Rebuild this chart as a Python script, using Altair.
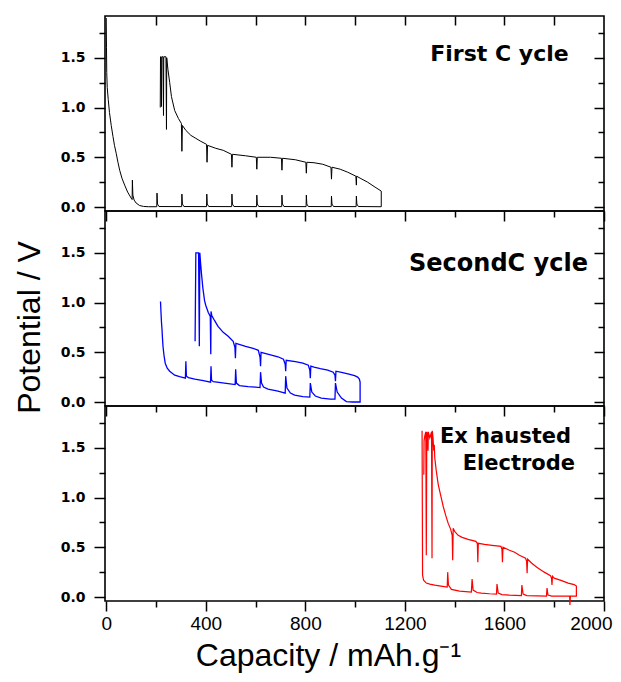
import altair as alt
import pandas as pd

# ---------------- data (capacity mAh/g, potential V) ----------------
first_discharge = [(0, 1.90), (1, 1.60), (2, 1.35), (4, 1.20), (8, 1.08), (13, 0.95), (20, 0.82),
                   (27, 0.71), (33, 0.62), (40, 0.54), (47, 0.45), (54, 0.37), (63, 0.29), (74, 0.22),
                   (86, 0.15), (100, 0.09), (104, 0.075), (105, 0.27), (107, 0.12), (112, 0.07),
                   (120, 0.04), (134, 0.015), (150, 0.006), (170, 0.003), (203, 0.003),
                   (204, 0.14), (206, 0.03), (212, 0.005), (303, 0.004), (304, 0.13), (306, 0.03),
                   (312, 0.005), (403, 0.004), (404, 0.13), (406, 0.03), (412, 0.005), (504, 0.004),
                   (505, 0.13), (507, 0.03), (513, 0.005), (604, 0.004), (605, 0.12), (607, 0.03),
                   (613, 0.005), (705, 0.004), (706, 0.12), (708, 0.03), (714, 0.005), (803, 0.004),
                   (804, 0.12), (806, 0.03), (812, 0.005), (904, 0.004), (905, 0.11), (907, 0.03),
                   (913, 0.005), (1004, 0.004), (1005, 0.11), (1007, 0.03), (1013, 0.005), (1105, 0.003)]
first_charge = [(1105, 0.16), (1080, 0.20), (1050, 0.25), (1020, 0.29), (1006, 0.31), (1005, 0.22),
                (1003, 0.31), (970, 0.35), (940, 0.38), (907, 0.40), (905, 0.28), (903, 0.40),
                (870, 0.43), (835, 0.445), (806, 0.45), (804, 0.34), (802, 0.45), (760, 0.475),
                (708, 0.49), (706, 0.37), (704, 0.49), (660, 0.50), (607, 0.50), (605, 0.38),
                (603, 0.50), (560, 0.515), (507, 0.53), (505, 0.40), (503, 0.53), (470, 0.57),
                (440, 0.59), (407, 0.62), (405, 0.45), (403, 0.63), (380, 0.66), (360, 0.69),
                (340, 0.72), (320, 0.77), (306, 0.82), (304, 0.56), (302, 0.84), (290, 0.89),
                (275, 0.97), (262, 1.11), (255, 1.25), (248, 1.38), (243, 1.50), (242, 0.78),
                (240, 1.51), (231, 1.51), (230, 0.92), (228, 1.51), (223, 1.51), (222, 1.01),
                (220, 1.51), (218, 1.51), (217, 1.00)]

second_discharge = [(218, 1.01), (220, 0.90), (222, 0.80), (224, 0.73), (226, 0.64), (228, 0.56),
                    (232, 0.47), (237, 0.39), (245, 0.34), (255, 0.31), (275, 0.27), (295, 0.255),
                    (318, 0.24), (320, 0.41), (322, 0.26), (330, 0.245), (356, 0.23), (390, 0.215),
                    (419, 0.20), (421, 0.36), (423, 0.22), (430, 0.205), (460, 0.195), (490, 0.185),
                    (518, 0.175), (520, 0.33), (523, 0.19), (535, 0.165), (570, 0.155), (600, 0.15),
                    (618, 0.145), (620, 0.30), (624, 0.19), (632, 0.15), (650, 0.13), (690, 0.11),
                    (719, 0.09), (721, 0.26), (726, 0.14), (740, 0.09), (757, 0.07), (790, 0.055),
                    (818, 0.05), (820, 0.19), (826, 0.10), (840, 0.06), (864, 0.04), (900, 0.03),
                    (919, 0.03), (921, 0.19), (928, 0.10), (945, 0.04), (965, 0.005), (990, 0.0),
                    (1020, 0.0)]
second_charge = [(1020, 0.20), (1017, 0.23), (1010, 0.25), (998, 0.265), (975, 0.28), (950, 0.295),
                 (923, 0.31), (921, 0.21), (919, 0.27), (912, 0.30), (890, 0.32), (860, 0.335),
                 (835, 0.35), (822, 0.36), (820, 0.24), (818, 0.32), (812, 0.37), (790, 0.39),
                 (760, 0.405), (723, 0.42), (721, 0.31), (719, 0.38), (712, 0.43), (690, 0.455),
                 (660, 0.475), (622, 0.50), (620, 0.36), (618, 0.45), (611, 0.52), (590, 0.54),
                 (560, 0.56), (521, 0.59), (519, 0.44), (517, 0.55), (510, 0.61), (490, 0.66),
                 (470, 0.70), (449, 0.76), (435, 0.82), (424, 0.87), (421, 0.91), (420, 0.48),
                 (418, 0.86), (410, 0.90), (400, 0.97), (395, 1.02), (388, 1.15), (383, 1.28),
                 (379, 1.40), (376, 1.50), (374, 0.56), (371, 1.50), (360, 1.50), (357, 0.61)]

third_discharge = [(1269, 1.67), (1271, 0.22), (1275, 0.17), (1286, 0.14), (1300, 0.13), (1320, 0.12),
                   (1345, 0.11), (1370, 0.10), (1372, 0.25), (1375, 0.12), (1387, 0.076), (1420, 0.06),
                   (1467, 0.05), (1470, 0.18), (1474, 0.07), (1490, 0.045), (1507, 0.04), (1540, 0.033),
                   (1568, 0.03), (1570, 0.13), (1575, 0.04), (1590, 0.025), (1620, 0.02), (1668, 0.015),
                   (1670, 0.12), (1675, 0.03), (1690, 0.015), (1769, 0.01), (1771, 0.09), (1775, 0.02),
                   (1790, 0.01), (1862, 0.01), (1863, -0.08), (1865, 0.01), (1889, 0.01)]
third_charge = [(1889, 0.11), (1880, 0.125), (1856, 0.14), (1830, 0.165), (1800, 0.19), (1793, 0.21),
                (1791, 0.12), (1789, 0.19), (1785, 0.215), (1760, 0.25), (1730, 0.30), (1710, 0.34),
                (1693, 0.38), (1691, 0.24), (1689, 0.36), (1685, 0.39), (1660, 0.42), (1641, 0.45),
                (1620, 0.47), (1594, 0.50), (1592, 0.35), (1590, 0.48), (1586, 0.51), (1550, 0.52),
                (1520, 0.53), (1495, 0.54), (1493, 0.35), (1491, 0.54), (1485, 0.56), (1454, 0.58),
                (1430, 0.60), (1414, 0.62), (1400, 0.66), (1394, 0.69), (1392, 0.37), (1390, 0.62),
                (1384, 0.68), (1374, 0.74), (1364, 0.82), (1354, 0.91), (1344, 1.02), (1334, 1.13),
                (1326, 1.27), (1320, 1.40), (1318, 1.53), (1316, 1.47), (1313, 1.60), (1310, 1.67),
                (1309, 0.39), (1307, 1.66), (1300, 1.60), (1294, 1.66), (1293, 1.47), (1291, 1.62),
                (1288, 1.66), (1286, 0.42), (1284, 1.66), (1280, 1.62), (1277, 1.57), (1276, 1.23)]

panel_labels = [
    [("First C ycle", 1580, 1.468, 22)],
    [("SecondC ycle", 1576, 1.314, 24)],
    [("Ex hausted", 1604, 1.548, 21), ("Electrode", 1658, 1.277, 21)],
]
colors = ["#000000", "#0000FF", "#FF0000"]
line_widths = [1.0, 1.3, 1.2]

x_title = "Capacity / mAh.g\u207B\u00B9"
x_title_pos = (893, 0.082)
y_title = "Potential / V"

x_major_ticks = [0, 400, 800, 1200, 1600, 2000]
x_minor_ticks = [200, 600, 1000, 1400, 1800]
x_top_ticks = [200, 400, 600, 800, 1000, 1200, 1400, 1600, 1800]
y_major_ticks = [0.0, 0.5, 1.0, 1.5]
y_minor_ticks = [0.25, 0.75, 1.25, 1.75]

X_DOMAIN = [-5, 2000]
Y_DOMAIN = [-0.04, 1.92]
W, H = 499, 195
TITLE_H = 71

xs = alt.Scale(domain=X_DOMAIN, nice=False, zero=False)
ys = alt.Scale(domain=Y_DOMAIN, nice=False, zero=False)


def make_df(points):
    return pd.DataFrame({"cap": [p[0] for p in points], "v": [p[1] for p in points],
                         "i": list(range(len(points)))})


def tick_axis(orient, values, size, offset=0):
    kw = dict(orient=orient, values=values, tickSize=size, tickWidth=1.5, tickColor="black",
              domain=False, grid=False, labels=False, title=None)
    if offset:
        kw["offset"] = offset
    return alt.Axis(**kw)


def panel(idx, points):
    df = make_df(points)
    bottom = idx == 2
    xkw = dict(orient="bottom", values=x_major_ticks, tickSize=10, tickWidth=1.5, tickColor="black",
               domain=False, grid=False, labels=bottom, format="d", labelFont="Liberation Sans",
               labelFontSize=19, labelColor="black", labelPadding=3, labelFlush=True,
               labelFlushOffset=8, labelOverlap=False, title=None)
    ykw = dict(orient="left", values=y_major_ticks, tickSize=11, tickWidth=1.5, tickColor="black",
               domain=False, grid=False, labels=True, format=".1f", labelFont="DejaVu Sans",
               labelFontWeight="bold", labelFontSize=14, labelColor="black", labelPadding=9,
               labelFlush=False, labelOverlap=False)
    if idx == 1:
        ykw.update(title=y_title, titleFont="Liberation Sans", titleFontSize=32,
                   titleFontWeight="normal", titleColor="black", titleX=-66, titleY=116,
                   titleBaseline="alphabetic", titleAngle=270)
    else:
        ykw["title"] = None

    base = alt.Chart(df)
    data_line = base.mark_line(color=colors[idx], strokeWidth=line_widths[idx]).encode(
        x=alt.X("cap:Q", scale=xs, axis=alt.Axis(**xkw)),
        y=alt.Y("v:Q", scale=ys, axis=alt.Axis(**ykw)),
        order=alt.Order("i:Q"),
    )
    minor = base.mark_line(opacity=0).encode(
        x=alt.X("cap:Q", scale=xs, axis=tick_axis("bottom", x_minor_ticks, 6)),
        y=alt.Y("v:Q", scale=ys, axis=tick_axis("left", y_minor_ticks, 6)),
        order=alt.Order("i:Q"),
    )
    top_axis = tick_axis("top", x_top_ticks, 9, -9) if idx == 0 else None
    right_major = base.mark_line(opacity=0).encode(
        x=alt.X("cap:Q", scale=xs, axis=top_axis),
        y=alt.Y("v:Q", scale=ys, axis=tick_axis("right", y_major_ticks, 10, -10)),
        order=alt.Order("i:Q"),
    )
    right_minor = base.mark_line(opacity=0).encode(
        x=alt.X("cap:Q", scale=xs, axis=None),
        y=alt.Y("v:Q", scale=ys, axis=tick_axis("right", y_minor_ticks, 6, -6)),
        order=alt.Order("i:Q"),
    )
    texts = []
    for (t, cx, cy, fs) in panel_labels[idx]:
        tdf = pd.DataFrame({"cap": [cx], "v": [cy], "t": [t]})
        texts.append(alt.Chart(tdf).mark_text(font="DejaVu Sans", fontWeight="bold", fontSize=fs,
                                              align="center", baseline="alphabetic",
                                              color="black").encode(
            x=alt.X("cap:Q", scale=xs, axis=None),
            y=alt.Y("v:Q", scale=ys, axis=None),
            text="t:N",
        ))
    return alt.layer(data_line, minor, right_major, right_minor, *texts).resolve_axis(
        x="independent", y="independent").properties(width=W, height=H)


p1 = panel(0, first_discharge + first_charge)
p2 = panel(1, second_discharge + second_charge)
p3 = panel(2, third_discharge + third_charge)

title_df = pd.DataFrame({"cap": [x_title_pos[0]], "v": [x_title_pos[1]], "t": [x_title]})
title_panel = alt.Chart(title_df).mark_text(
    font="Liberation Sans", fontSize=32, align="center", baseline="alphabetic",
    color="black").encode(
    x=alt.X("cap:Q", scale=xs, axis=None),
    y=alt.Y("v:Q", scale=alt.Scale(domain=[0, 1], nice=False, zero=False), axis=None),
    text="t:N",
).properties(width=W, height=TITLE_H, view={"stroke": "transparent"})

chart = alt.vconcat(p1, p2, p3, title_panel, spacing=0, bounds="flush").configure_view(
    stroke="black", strokeWidth=1.6).properties(
    padding={"left": 4, "top": 6, "right": 0, "bottom": 0}, background="white")

chart.save("out.html", embed_options={"renderer": "svg", "actions": False})
